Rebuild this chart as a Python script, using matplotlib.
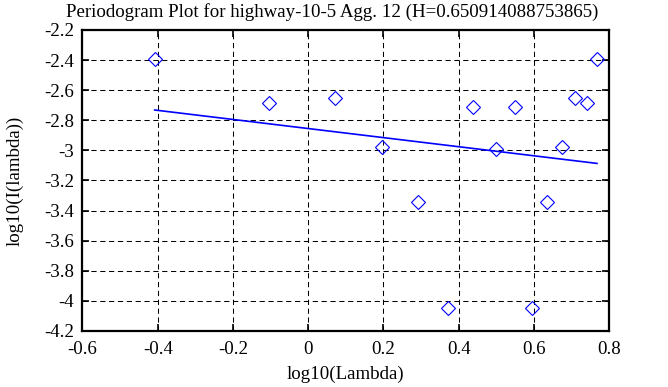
import matplotlib
matplotlib.use("Agg")
import matplotlib.pyplot as plt
import numpy as np

plt.rcParams['font.family'] = ['Liberation Serif', 'DejaVu Serif']
plt.rcParams['axes.unicode_minus'] = False

# Data
log_lambda = [-0.408, -0.104, 0.072, 0.197, 0.293, 0.373, 0.439, 0.499,
              0.549, 0.595, 0.636, 0.674, 0.709, 0.742, 0.768]
log_I = [-2.393, -2.683, -2.652, -2.979, -3.341, -4.049, -2.709, -2.993,
         -2.709, -4.049, -3.341, -2.979, -2.650, -2.683, -2.393]
fit_intercept = -2.855
fit_slope = -0.30183
title = "Periodogram Plot for highway-10-5 Agg. 12 (H=0.650914088753865)"
xlabel = "log10(Lambda)"
ylabel = "log10(I(lambda))"
xticks = [-0.6, -0.4, -0.2, 0, 0.2, 0.4, 0.6, 0.8]
yticks = [-2.2, -2.4, -2.6, -2.8, -3, -3.2, -3.4, -3.6, -3.8, -4, -4.2]

FS = 13.6

fig = plt.figure(figsize=(6.68, 3.87), dpi=100)
ax = fig.add_axes([0.1235, 0.145, 0.9117 - 0.1235, 0.9225 - 0.145])

ax.plot(log_lambda, log_I, linestyle='none', marker='D', markersize=7,
        markerfacecolor='none', markeredgecolor='#0000ff', markeredgewidth=0.8,
        zorder=3)
xl = np.array([log_lambda[0], log_lambda[-1]])
ax.plot(xl, fit_intercept + fit_slope * xl, color='#0000ff', linewidth=1.2, zorder=3)

ax.set_xlim(-0.6, 0.8)
ax.set_ylim(-4.2, -2.2)
ax.set_xticks(xticks)
ax.set_yticks(yticks)
ax.set_xticklabels([f"{v:g}" for v in xticks])
ax.set_yticklabels([f"{v:g}" for v in yticks])
ax.grid(True, color='black', linestyle=(0, (5, 3.5)), linewidth=0.75)
ax.tick_params(direction='in', length=5, width=1.2, top=True, right=True,
               labelsize=FS)
ax.tick_params(axis='x', pad=7)
ax.tick_params(axis='y', pad=6)
for s in ax.spines.values():
    s.set_linewidth(1.6)
fig.text(0.497, 0.993, title, fontsize=FS, ha='center', va='top')
ax.set_xlabel(xlabel, fontsize=FS, labelpad=6)
ax.set_ylabel(ylabel, fontsize=FS, labelpad=15)

fig.savefig("out.png", dpi=100)
